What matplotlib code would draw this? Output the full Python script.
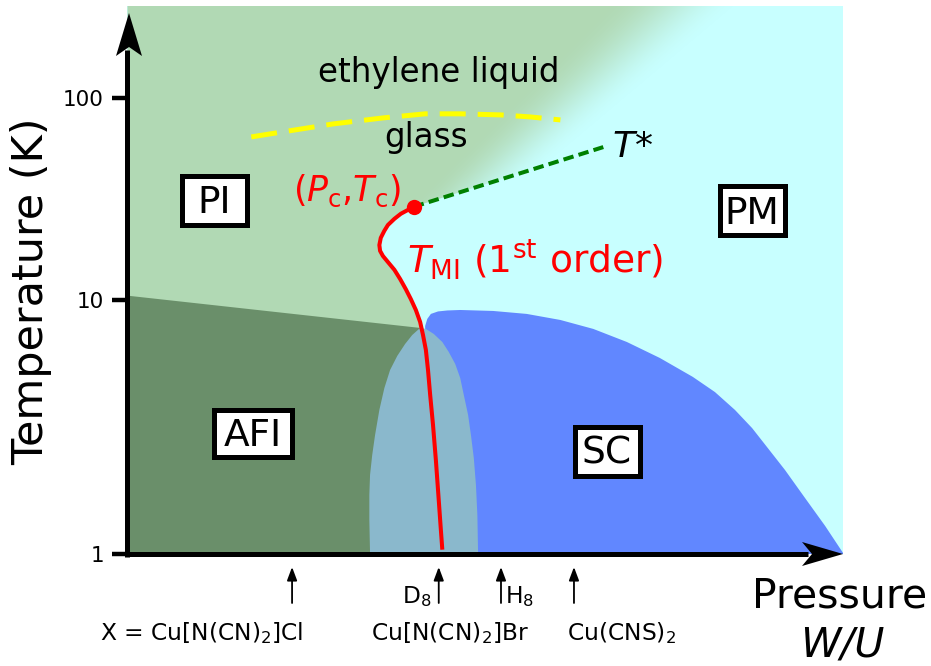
import numpy as np
import matplotlib
matplotlib.use("Agg")
import matplotlib.pyplot as plt
import matplotlib.transforms as mtransforms
from matplotlib.patches import Polygon, Rectangle
from matplotlib.ticker import FixedLocator, NullLocator, FixedFormatter

plt.rcParams['font.family'] = ['DejaVu Sans']
plt.rcParams['mathtext.fontset'] = 'dejavusans'

# ---------------------------------------------------------------------------
# Phase-diagram data: x = W/U (schematic, 0..1 along the pressure axis),
# T in kelvin.
# ---------------------------------------------------------------------------
T_TICKS = [1, 10, 100]
T_TICK_LABELS = ["1", "10", "100"]
T_BOTTOM, T_TOP = 1.0, 285.0

# critical end point of the first-order line
PC, TC = 0.400, 28.9

# first-order Mott transition line T_MI
tmi_x = [0.400, 0.392, 0.382, 0.373, 0.364, 0.359, 0.354, 0.352, 0.353, 0.357,
         0.364, 0.373, 0.381, 0.389, 0.396, 0.403, 0.409, 0.413, 0.417, 0.420,
         0.423, 0.427, 0.431, 0.435, 0.438, 0.440]
tmi_T = [28.9, 27.9, 26.7, 25.2, 23.5, 22.0, 20.3, 18.7, 17.5, 16.5,
         15.4, 14.1, 12.7, 11.3, 10.1, 9.13, 8.19, 7.28, 6.36, 5.30,
         4.23, 3.22, 2.34, 1.63, 1.24, 1.04]

# crossover line T*
tstar_x = [0.400, 0.665]
tstar_T = [28.9, 57.1]

# glass transition of the ethylene end groups
glass_x = [0.173, 0.217, 0.287, 0.357, 0.416, 0.465, 0.521, 0.563, 0.605]
glass_T = [64.1, 67.9, 74.3, 79.6, 83.4, 83.4, 82.4, 80.5, 77.8]

# antiferromagnetic insulator
afi_x = [0.0, 0.409, 0.437, 0.0]
afi_T = [10.5, 7.76, 1.0, 1.0]

# superconducting dome
sc_x = [0.416, 0.416, 0.419, 0.424, 0.434, 0.447, 0.465, 0.511, 0.558, 0.605,
        0.651, 0.698, 0.744, 0.790, 0.821, 0.849, 0.873, 0.895, 0.919, 0.947,
        0.975, 1.000, 1.000, 0.420]
sc_T = [7.28, 7.90, 8.42, 8.81, 9.01, 9.09, 9.13, 9.05, 8.81, 8.34,
        7.69, 6.83, 5.91, 4.98, 4.34, 3.69, 3.13, 2.61, 2.14, 1.66,
        1.29, 1.01, 1.00, 1.00]

# AFI / SC coexistence region
coex_x = [0.339, 0.338, 0.338, 0.339, 0.342, 0.346, 0.352, 0.359, 0.367,
          0.377, 0.388, 0.398, 0.409,
          0.417, 0.428, 0.440, 0.449, 0.458, 0.465, 0.470, 0.476, 0.480,
          0.484, 0.487, 0.489, 0.490]
coex_T = [1.00, 1.36, 1.71, 2.05, 2.45, 2.94, 3.69, 4.50, 5.30,
          6.02, 6.71, 7.28, 7.76,
          7.69, 7.35, 6.83, 6.24, 5.60, 4.93, 4.23, 3.53, 2.94,
          2.39, 1.87, 1.42, 1.00]

# positions of the compounds on the W/U axis
compound_x = [0.230, 0.435, 0.522, 0.624]

# region labels
region_labels = ["PI", "PM", "AFI", "SC"]

# colours
C_PI = (0.698, 0.851, 0.706)
C_PM = "#c8ffff"
C_AFI = "#6a8f6a"
C_SC = "#6187ff"
C_COEX = "#8ab8cc"

# ---------------------------------------------------------------------------
# Temperature axis: logarithmic, with the upper decade drawn compressed.
# ---------------------------------------------------------------------------
def _fwd(T):
    L = np.log10(np.clip(np.asarray(T, float), 1e-6, None))
    return np.where(L <= 1, L * 254.0, 254.0 + (L - 1.0) * 202.0)


def _inv(y):
    y = np.asarray(y, float)
    return np.where(y <= 254.0, 10 ** (y / 254.0), 10 ** (1.0 + (y - 254.0) / 202.0))


FIG_W, FIG_H = 931, 666
AX_L, AX_R, AX_T, AX_B = 127.5, 843.0, 6.0, 554.0


def ax_pt(px, py):
    """Pixel position on the canvas -> axes fraction."""
    return ((px - AX_L) / (AX_R - AX_L), (AX_B - py) / (AX_B - AX_T))


def fig_pt(px, py):
    return (px / FIG_W, 1 - py / FIG_H)


fig = plt.figure(figsize=(FIG_W / 100, FIG_H / 100), dpi=100)
ax = fig.add_axes([AX_L / FIG_W, 1 - AX_B / FIG_H,
                   (AX_R - AX_L) / FIG_W, (AX_B - AX_T) / FIG_H])
ax.set_yscale('function', functions=(_fwd, _inv))
ax.set_facecolor(C_PM)

# --- paramagnetic-insulator colouring, fading into the metal at high T ---
H = int(AX_B - AX_T)
W = int(AX_R - AX_L)
gy, gx = np.mgrid[0:H, 0:W]
py = AX_T + gy + 0.5
px = AX_L + gx + 0.5
frac = np.clip((207.0 - py) / 201.0, 0, None)
x_edge = 408.0 + frac * 200.0
width = 90.0 + frac * 40.0
t = np.clip((px - x_edge) / width, 0, 1)
alpha = 1.0 - t * t * (3 - 2 * t)
alpha[py >= 207] = 1.0
rgba = np.zeros((H, W, 4))
rgba[..., 0], rgba[..., 1], rgba[..., 2] = C_PI
rgba[..., 3] = alpha
img = ax.imshow(rgba, extent=(0, 1, 0, 1), transform=ax.transAxes,
                aspect='auto', origin='upper', interpolation='bilinear', zorder=1)

# the insulating side ends at T* above the critical point and at T_MI below it
i_cut = tmi_T.index(7.28)
slope = (_fwd(tstar_T[1]) - _fwd(tstar_T[0])) / (tstar_x[1] - tstar_x[0])
T_right = float(_inv(_fwd(TC) + slope * (1.0 - PC)))
clip_verts = ([(0.0, T_TOP), (1.0, T_TOP), (1.0, T_right)]
              + list(zip(tmi_x[:i_cut + 1], tmi_T[:i_cut + 1]))
              + [(0.0, tmi_T[i_cut])])
clip_poly = Polygon(clip_verts, closed=True, transform=ax.transData)
img.set_clip_path(clip_poly)

# --- ordered phases ---
ax.add_patch(Polygon(list(zip(afi_x, afi_T)), closed=True, facecolor=C_AFI,
                     edgecolor='none', zorder=2))
ax.add_patch(Polygon(list(zip(sc_x, sc_T)), closed=True, facecolor=C_SC,
                     edgecolor='none', joinstyle='round', zorder=3))
ax.add_patch(Polygon(list(zip(coex_x, coex_T)), closed=True, facecolor=C_COEX,
                     edgecolor='none', zorder=4))

# --- transition lines ---
ax.plot(glass_x, glass_T, color='#ffff00', lw=3.6, dashes=(5.2, 2.4),
        solid_capstyle='butt', dash_capstyle='butt', zorder=5)
ax.plot(tstar_x, tstar_T, color='#008000', lw=2.9, dashes=(2.6, 1.3),
        dash_capstyle='butt', zorder=5)
ax.plot(tmi_x, tmi_T, color='#ff0000', lw=2.9, solid_capstyle='butt',
        solid_joinstyle='round', zorder=6)
ax.plot([PC], [TC], 'o', color='#ff0000', ms=11, mec='none', zorder=7)

ax.set_xlim(0, 1)
ax.set_ylim(T_BOTTOM, T_TOP)

# --- axes drawn as arrows ---
for s in ax.spines.values():
    s.set_visible(False)
ax.set_xticks([])
ax.yaxis.set_major_locator(FixedLocator(T_TICKS))
ax.yaxis.set_major_formatter(FixedFormatter(T_TICK_LABELS))
ax.yaxis.set_minor_locator(NullLocator())
ax.tick_params(axis='y', length=10.5, width=3.2, pad=6.5, labelsize=15.5,
               colors='k')

lw_axis = 3.6
u0, v0 = ax_pt(AX_L, AX_B + 2.5)
u1, v1 = ax_pt(AX_L, 50)
ax.plot([u0, u1], [v0, v1], color='k', lw=lw_axis, transform=ax.transAxes,
        clip_on=False, solid_capstyle='butt', zorder=10)
u0, v0 = ax_pt(AX_L - 2.5, AX_B)
u1, v1 = ax_pt(808, AX_B)
ax.plot([u0, u1], [v0, v1], color='k', lw=lw_axis, transform=ax.transAxes,
        clip_on=False, solid_capstyle='butt', zorder=10)
head_y = [ax_pt(129, 13), ax_pt(142, 56), ax_pt(129, 47), ax_pt(116, 56)]
head_x = [ax_pt(843, 554), ax_pt(802, 542), ax_pt(812, 554), ax_pt(802, 566)]
for head in (head_y, head_x):
    ax.add_patch(Polygon(head, closed=True, facecolor='k', edgecolor='none',
                         transform=ax.transAxes, clip_on=False, zorder=11))

# --- region boxes ---
boxes = [(179, 173, 249, 227), (717, 184, 787, 238),
         (211, 407, 294, 459), (572, 424, 642, 478)]
for name, (x0, y0, x1, y1) in zip(region_labels, boxes):
    bl = ax_pt(x0 + 2.5, y1 - 2.5)
    tr = ax_pt(x1 - 2.5, y0 + 2.5)
    ax.add_patch(Rectangle(bl, tr[0] - bl[0], tr[1] - bl[1], facecolor='white',
                           edgecolor='black', lw=3.6, transform=ax.transAxes,
                           zorder=8))
    cu, cv = ax_pt((x0 + x1) / 2, (y0 + y1) / 2 + 13)
    ax.text(cu, cv, name, transform=ax.transAxes, ha='center', va='baseline',
            fontsize=27, color='k', zorder=9)

# --- annotations inside the diagram ---
def label(px_, py_, s, **kw):
    u, v = ax_pt(px_, py_)
    ax.text(u, v, s, transform=ax.transAxes, zorder=9, **kw)


label(439, 82, "ethylene liquid", ha='center', va='baseline', fontsize=23.5)
label(426, 147, "glass", ha='center', va='baseline', fontsize=23.5)
label(612, 157, r"$T$*", ha='left', va='baseline', fontsize=26)
label(347, 201, r"$(P_\mathrm{c}{,}T_\mathrm{c})$", ha='center', va='baseline',
      fontsize=25, color='#ff0000')
label(407, 274, r"$T_\mathrm{MI}$ (1$^\mathrm{st}$ order)", ha='left',
      va='baseline', fontsize=27, color='#ff0000')

# --- compounds along the W/U axis ---
trans = mtransforms.blended_transform_factory(ax.transData, ax.transAxes)
_, v_tip = ax_pt(0, 567)
_, v_tail = ax_pt(0, 603)
for xc in compound_x:
    ax.annotate("", xy=(xc, v_tip), xycoords=trans, xytext=(xc, v_tail),
                textcoords=trans, annotation_clip=False,
                arrowprops=dict(arrowstyle='-|>,head_length=0.8,head_width=0.3',
                                lw=1.3, color='k', shrinkA=0, shrinkB=0))

fs_cmp = 16.8
fig.text(*fig_pt(202, 640), r"X = Cu[N(CN)$_2$]Cl", ha='center', va='baseline',
         fontsize=fs_cmp)
fig.text(*fig_pt(450, 640), r"Cu[N(CN)$_2$]Br", ha='center', va='baseline',
         fontsize=fs_cmp)
fig.text(*fig_pt(622, 640), r"Cu(CNS)$_2$", ha='center', va='baseline',
         fontsize=fs_cmp)
fig.text(*fig_pt(432, 603), r"D$_8$", ha='right', va='baseline', fontsize=fs_cmp)
fig.text(*fig_pt(505, 603), r"H$_8$", ha='left', va='baseline', fontsize=fs_cmp)

# --- axis titles ---
fig.text(*fig_pt(31, 291), "Temperature (K)", rotation=90, ha='center',
         va='center', fontsize=31)
fig.text(*fig_pt(752, 608), "Pressure", ha='left', va='baseline', fontsize=29.5)
fig.text(*fig_pt(842, 656), "W/U", ha='center', va='baseline', fontsize=29.5,
         style='italic')

fig.savefig("out.png", dpi=100)
